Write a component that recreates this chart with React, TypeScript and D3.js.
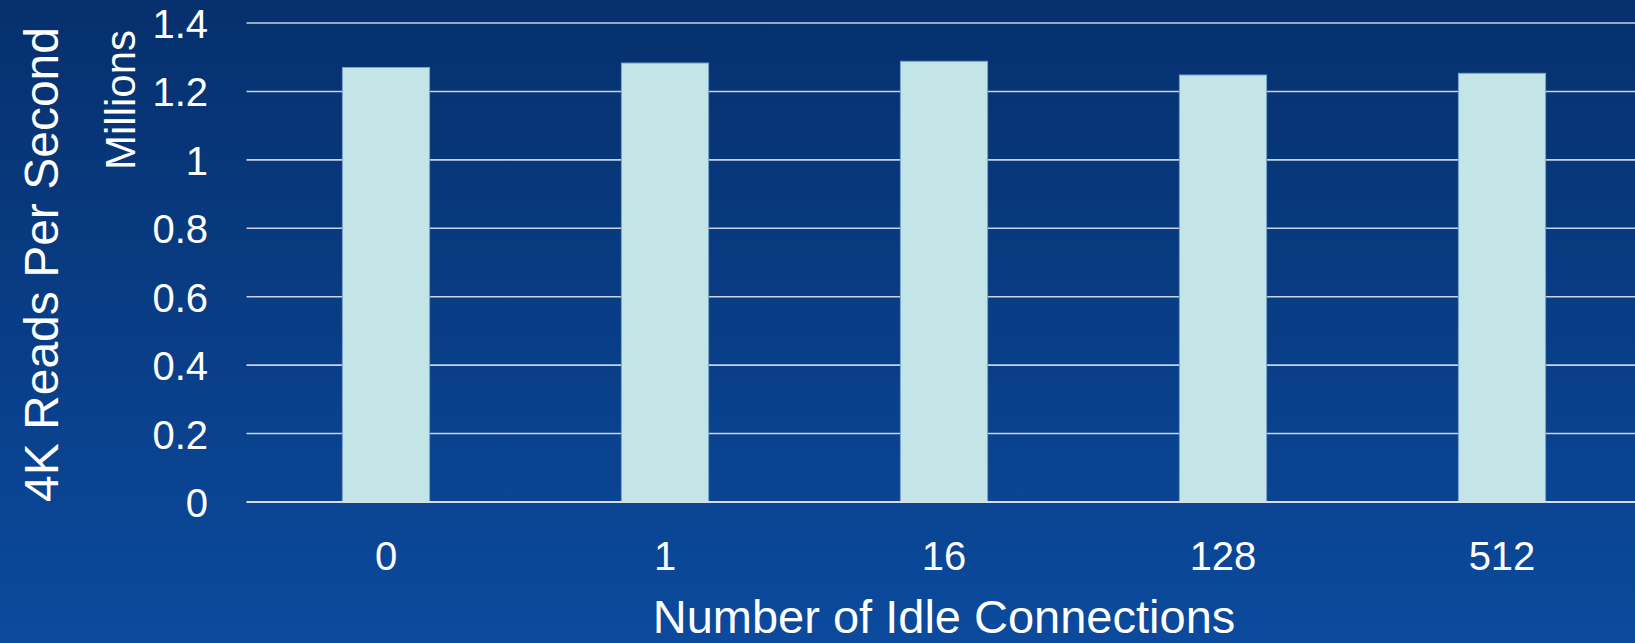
import React from "react";
import * as d3 from "d3";

const categories = ["0", "1", "16", "128", "512"];
const readsMillions = [1.27, 1.283, 1.288, 1.248, 1.253];
const yTicks = [0, 0.2, 0.4, 0.6, 0.8, 1, 1.2, 1.4];

const W = 1635;
const H = 643;
const plot = { left: 246.5, right: 1641.5, top: 23, bottom: 502 };
const FONT = "'Liberation Sans', Arial, Helvetica, sans-serif";

export default function App() {
  const x = d3
    .scaleBand<string>()
    .domain(categories)
    .range([plot.left, plot.right])
    .paddingInner(0.6875)
    .paddingOuter(0.34375);
  const y = d3.scaleLinear().domain([0, 1.4]).range([plot.bottom, plot.top]);
  const fmt = (v: number) => (v === 0 || v === 1 ? String(v) : d3.format(".1f")(v));

  return (
    <svg
      width={W}
      height={H}
      style={{ position: "absolute", left: 0, top: 0, display: "block" }}
      fontFamily={FONT}
    >
      <defs>
        <linearGradient id="bg" x1="0" y1="0" x2="0" y2="1">
          <stop offset="0" stopColor="#06306d" />
          <stop offset="1" stopColor="#0b4a9d" />
        </linearGradient>
      </defs>
      <rect x={0} y={0} width={W} height={H} fill="url(#bg)" />

      {yTicks.map((t) => (
        <g key={t}>
          {t !== 0 && (
            <line
              x1={plot.left}
              x2={W}
              y1={y(t)}
              y2={y(t)}
              stroke="#c9d3e3"
              strokeWidth={1.6}
            />
          )}
          <text
            x={208}
            y={y(t) + 15}
            textAnchor="end"
            fill="#ffffff"
            fontSize={40}
          >
            {fmt(t)}
          </text>
        </g>
      ))}

      {categories.map((c, i) => (
        <rect
          key={c}
          x={x(c)}
          y={y(readsMillions[i])}
          width={x.bandwidth()}
          height={y(0) - y(readsMillions[i])}
          fill="#c4e5e8"
          stroke="#7aa3c8"
          strokeWidth={1}
        />
      ))}

      <line
        x1={plot.left}
        x2={W}
        y1={y(0)}
        y2={y(0)}
        stroke="#d9dde4"
        strokeWidth={2.2}
      />

      {categories.map((c) => (
        <text
          key={c}
          x={(x(c) as number) + x.bandwidth() / 2}
          y={570}
          textAnchor="middle"
          fill="#ffffff"
          fontSize={40}
        >
          {c}
        </text>
      ))}

      <text
        x={(plot.left + plot.right) / 2}
        y={633}
        textAnchor="middle"
        fill="#ffffff"
        fontSize={47}
      >
        Number of Idle Connections
      </text>

      <text
        transform={`translate(58, ${(plot.top + plot.bottom) / 2 + 2}) rotate(-90)`}
        textAnchor="middle"
        fill="#ffffff"
        fontSize={48}
      >
        4K Reads Per Second
      </text>

      <text
        transform={`translate(135, 100) rotate(-90)`}
        textAnchor="middle"
        fill="#ffffff"
        fontSize={42}
      >
        Millions
      </text>
    </svg>
  );
}
